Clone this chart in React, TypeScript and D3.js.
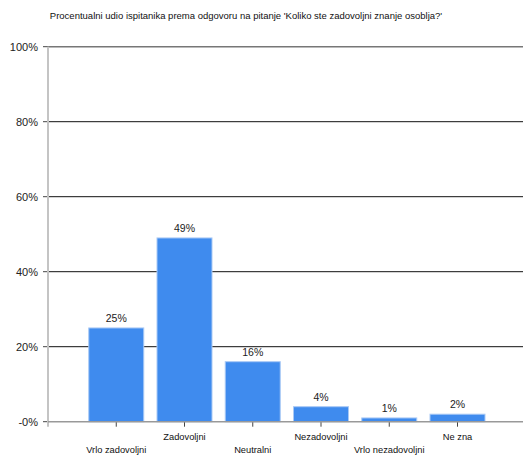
import React from "react";
import * as d3 from "d3";

const categories = ["Vrlo zadovoljni", "Zadovoljni", "Neutralni", "Nezadovoljni", "Vrlo nezadovoljni", "Ne zna"];
const values = [25, 49, 16, 4, 1, 2];
const yTicks = [0, 20, 40, 60, 80, 100];
const title = "Procentualni udio ispitanika prema odgovoru na pitanje 'Koliko ste zadovoljni znanje osoblja?'";

const W = 523;
const H = 455;
const left = 48;
const right = 523;
const top = 46.7;
const bottom = 421.7;
const font = "'Liberation Sans', Arial, sans-serif";

export default function App() {
  const y = d3.scaleLinear().domain([0, 100]).range([bottom, top]);
  const x = d3
    .scalePoint<string>()
    .domain(categories)
    .range([left, left + 68.25 * 7])
    .padding(1);
  const barW = 55;
  return (
    <svg
      width={W}
      height={H}
      style={{ position: "absolute", left: 0, top: 0, background: "#fff" }}
      fontFamily={font}
    >
      <text x={246} y={19} fontSize={9.5} textAnchor="middle" fill="#111">
        {title}
      </text>
      {yTicks.map((t) => (
        <g key={t}>
          {t > 0 && (
            <line
              x1={left}
              x2={right}
              y1={y(t)}
              y2={y(t)}
              stroke={t === 100 ? "#777" : "#111"}
              strokeWidth={t === 100 ? 1.6 : 1}
            />
          )}
          <line x1={43} x2={left} y1={y(t)} y2={y(t)} stroke="#444" />
          <text x={38} y={y(t) + 4} fontSize={11} textAnchor="end" fill="#222">
            {(t === 0 ? "-0" : t) + "%"}
          </text>
        </g>
      ))}
      {categories.map((c, i) => {
        const cx = x(c)!;
        return (
          <g key={c}>
            <rect
              x={cx - barW / 2}
              y={y(values[i])}
              width={barW}
              height={bottom - y(values[i])}
              fill="#3f8bee"
              stroke="#a9c9f5"
              strokeWidth={1}
            />
            <text x={cx} y={y(values[i]) - 6} fontSize={10.5} textAnchor="middle" fill="#222">
              {values[i] + "%"}
            </text>
            <line x1={cx} x2={cx} y1={bottom} y2={bottom + 5} stroke="#444" />
            <text x={cx} y={i % 2 === 0 ? 453 : 440} fontSize={9.3} textAnchor="middle" fill="#111">
              {c}
            </text>
          </g>
        );
      })}
      <line x1={left} x2={left} y1={top} y2={bottom + 5} stroke="#c4c4c4" strokeWidth={2} />
      <line x1={left} x2={right} y1={bottom} y2={bottom} stroke="#999" strokeWidth={1.5} />
    </svg>
  );
}
